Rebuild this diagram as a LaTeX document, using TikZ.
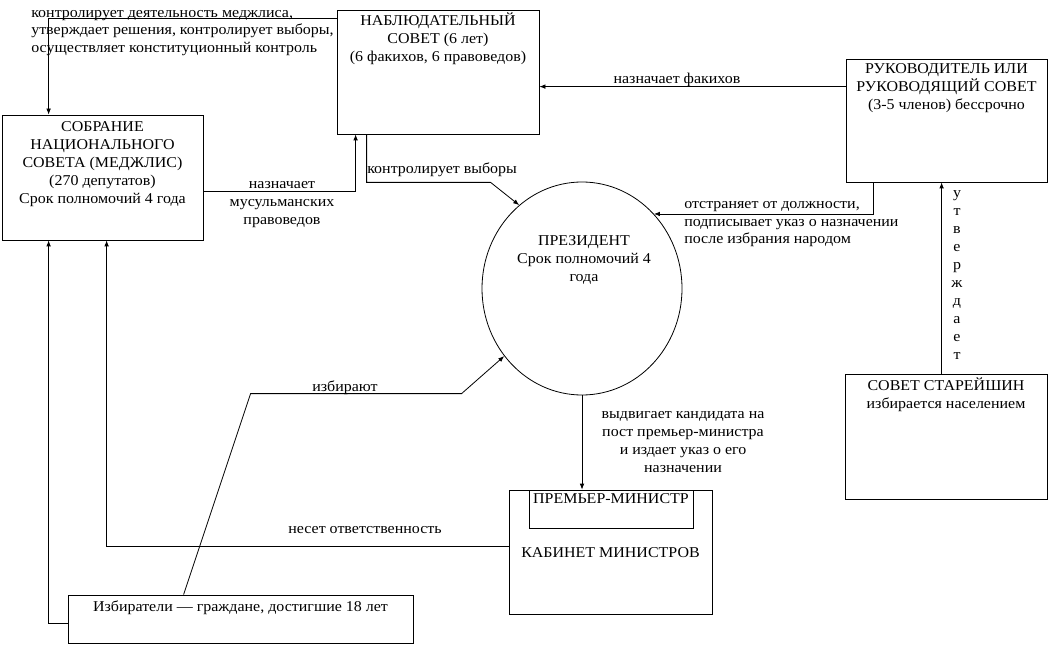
\documentclass[tikz,border=0pt]{standalone}
\usepackage{fontspec}
\setmainfont{Liberation Serif}[FakeStretch=1.065]
\usetikzlibrary{arrows.meta,calc,shapes.geometric}
\tikzset{
  box/.style={draw, line width=0.6pt, rectangle, inner sep=0pt},
  arr/.style={draw, line width=0.6pt, -{Latex[length=4.5pt,width=3.5pt]}},
  txt/.style={inner sep=0pt, align=center, anchor=north, font=\fontsize{11.25pt}{13.5pt}\selectfont},
  ltxt/.style={inner sep=0pt, align=left, anchor=north west, font=\fontsize{11.25pt}{13.1pt}\selectfont},
}
\begin{document}
\begin{tikzpicture}[x=0.75pt,y=-0.75pt]
\useasboundingbox (0,0) rectangle (1049,645);
% boxes
\node[box, minimum width=151.5pt, minimum height=93pt] (nabl) at (438,72) {};
\node[box, minimum width=150.75pt, minimum height=93.75pt] (sobr) at (102.5,177.5) {};
\node[box, minimum width=150.75pt, minimum height=92.25pt] (rukov) at (946.5,120.5) {};
\node[box, ellipse, minimum width=150pt, minimum height=159.75pt] (pres) at (582,288.5) {};
\node[box, minimum width=152.25pt, minimum height=93pt] (kab) at (610.5,552) {};
\node[box, minimum width=123pt, minimum height=28.5pt] (prem) at (611,509) {};
\node[box, minimum width=151.5pt, minimum height=93.75pt] (star) at (946,436.5) {};
\node[box, minimum width=258.75pt, minimum height=36pt] (izb) at (240.5,619) {};
% texts
\node[ltxt] (ctrlT) at (31,10) {контролирует деятельность меджлиса,\\утверждает решения, контролирует выборы,\\осуществляет конституционный контроль};
\node[txt] (nablT) at (438,13) {НАБЛЮДАТЕЛЬНЫЙ\\СОВЕТ  (6 лет)\\(6 факихов, 6 правоведов)};
\node[txt] (sobrT) at (102.5,121.5) {СОБРАНИЕ\\НАЦИОНАЛЬНОГО\\СОВЕТА (МЕДЖЛИС)\\(270 депутатов)\\Срок полномочий 4 года};
\node[txt] (naznT) at (282,181.5) {назначает\\мусульманских\\правоведов};
\node[ltxt] (kvT) at (367,162.5) {контролирует выборы};
\node[txt] (fakT) at (677,72.5) {назначает факихов};
\node[txt] (rukT) at (946.5,63.5) {РУКОВОДИТЕЛЬ ИЛИ\\РУКОВОДЯЩИЙ СОВЕТ\\(3-5 членов) бессрочно};
\node[ltxt] (otsT) at (684,201.5) {отстраняет от должности,\\подписывает указ о назначении\\после избрания народом};
\node[txt] (presT) at (584,235) {ПРЕЗИДЕНТ\\Срок полномочий 4\\года};
\node[txt] (izbrT) at (345,380.5) {избирают};
\node[txt] (vydT) at (683,411) {выдвигает кандидата на\\пост премьер-министра\\и издает указ о его\\назначении};
\node[txt] (premT) at (611,493.5) {ПРЕМЬЕР-МИНИСТР};
\node[txt] (kabT) at (610.5,547.5) {КАБИНЕТ МИНИСТРОВ};
\node[txt] (nesT) at (365,526.5) {несет ответственность};
\node[txt] (izbT) at (240.5,600.5) {Избиратели — граждане, достигшие 18 лет};
\node[txt] (starT) at (946,377.5) {СОВЕТ СТАРЕЙШИН\\избирается населением};
\node[txt] (utvT) at (957,190.5) {у\\т\\в\\е\\р\\ж\\д\\а\\е\\т};
% connectors
\draw[arr] ($(nabl.north west)+(0,9)$) -| ($(sobr.north west)+(47,0)$);
\draw[arr] ($(sobr.north east)+(0,77)$) -| ($(nabl.south west)+(19,0)$);
\draw[arr] ($(nabl.south west)+(30,0)$) |- ++(124,48) -- (pres.127);
\coordinate (f1) at ($(rukov.north west)+(0,28)$);
\draw[arr] (f1) -- (f1 -| nabl.east);
\draw[arr] ($(rukov.south west)+(28,0)$) |- (pres.46);
\coordinate (u1) at ($(star.north west)+(97,0)$);
\draw[arr] (u1) -- (u1 |- rukov.south);
\draw[arr] (pres.south) -- (pres.south |- kab.north);
\draw[arr] ($(kab.north west)+(0,57)$) -| ($(sobr.south west)+(105,0)$);
\draw[arr] ($(izb.north west)+(0,29)$) -| ($(sobr.south west)+(47,0)$);
\draw[arr] ($(izb.north west)+(116,0)$) -- ++(67,-201) -- ++(211,0) -- (pres.221);
\end{tikzpicture}
\end{document}
